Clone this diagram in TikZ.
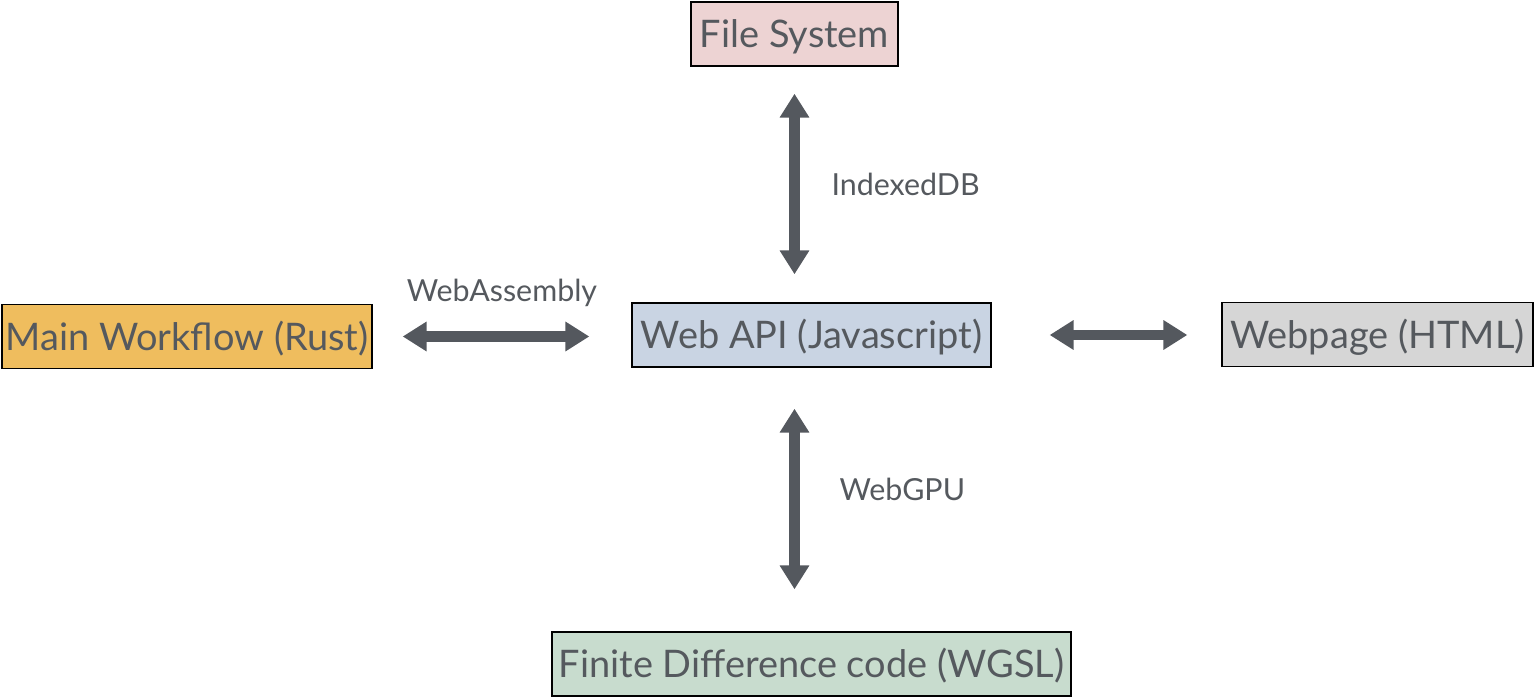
\documentclass[tikz,border=0pt]{standalone}
\usepackage{fontspec}
\setmainfont{Lato}
\usetikzlibrary{arrows.meta,positioning}
\definecolor{txtgray}{HTML}{55595E}
\definecolor{arrgray}{HTML}{54585E}
\definecolor{fspink}{HTML}{EDD3D3}
\definecolor{rustorange}{HTML}{EFBD5E}
\definecolor{apiblue}{HTML}{C9D4E3}
\definecolor{pagegray}{HTML}{D6D6D6}
\definecolor{wgslgreen}{HTML}{C8DCCE}
\begin{document}
\begin{tikzpicture}[x=0.02cm,y=-0.02cm]
    \tikzstyle{box}=[rectangle,draw=black,line width=0.8pt,text=txtgray,inner sep=0pt,
                     text height=15.6pt,text depth=0pt,
                     minimum height=1.28cm,font=\fontsize{21.6}{26}\selectfont]
    \tikzstyle{link}=[draw=arrgray,line width=5.7pt,
                      {Triangle[width=16pt,length=13.6pt]}-{Triangle[width=16pt,length=13.6pt]}]
    \tikzstyle{lbl}=[text=txtgray,inner sep=0pt,font=\fontsize{17.3}{20}\selectfont]
    \useasboundingbox (0,0) rectangle (1536,699);

    \node[box,fill=fspink,minimum width=4.14cm]     (fs)   at (794.5,34)    {File System};
    \node[box,fill=rustorange,minimum width=7.4cm]  (rust) at (187,336.5)   {Main Workflow (Rust)};
    \node[box,fill=apiblue,minimum width=7.18cm]    (api)  at (811.5,335)   {Web API (Javascript)};
    \node[box,fill=pagegray,minimum width=6.22cm]   (page) at (1377.5,334.5){Webpage (HTML)};
    \node[box,fill=wgslgreen,minimum width=10.38cm] (fd)   at (811.5,664)   {Finite Difference code (WGSL)};

    \draw[link,shorten <=0.54cm,shorten >=0.56cm] (fs.south) -- (fs.south |- api.north)
        node[lbl,midway,right=0.64cm] (idb) {IndexedDB};
    \draw[link,shorten <=0.6cm,shorten >=0.84cm] (rust.east) -- (rust.east -| api.west)
        node[lbl,midway,above=0.5cm] (wasm) {WebAssembly};
    \draw[link,shorten <=1.16cm,shorten >=0.68cm] (api.east) -- (api.east -| page.west);
    \draw[link,shorten <=0.82cm,shorten >=0.84cm] (fs.south |- api.south) -- (fs.south |- fd.north)
        node[lbl,pos=0.46,right=0.8cm] (gpu) {WebGPU};

\end{tikzpicture}
\end{document}
